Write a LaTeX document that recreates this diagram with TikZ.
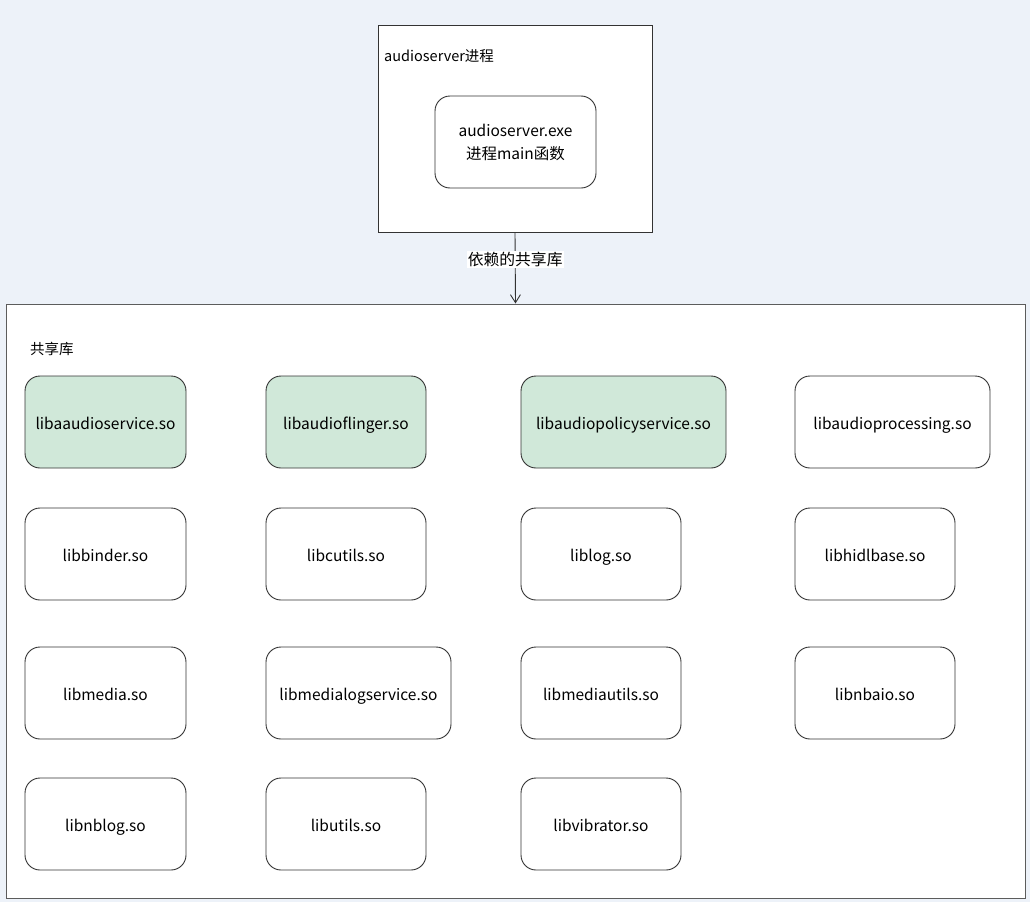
\documentclass[tikz,border=0pt]{standalone}
\usepackage{fontspec}
\setmainfont{Noto Sans CJK SC}
\usetikzlibrary{arrows.meta}
\definecolor{bgc}{HTML}{EDF2F9}
\definecolor{greenf}{HTML}{D0E8D9}
\definecolor{edgec}{HTML}{333333}
\tikzset{
  lib/.style={draw=edgec, line width=0.9pt, rounded corners=15pt, fill=white, font=\fontsize{15.5}{18}\selectfont, text=black},
  core/.style={lib, fill=greenf},
  frame/.style={draw=edgec, line width=1pt, fill=white},
  lbl/.style={font=\fontsize{14.5}{17}\selectfont, anchor=west, text=black, inner sep=0pt}
}
\newcommand{\libbox}[6]{% name, x1, y, x2, text, style
  \node[#6, minimum width={#4-#2}, minimum height=92, inner sep=0pt, text height=16pt, text depth=2pt] (#1) at ({(#2+#4)/2},{(#3)}) {#5};}
\begin{document}
\begin{tikzpicture}[x=1pt,y=-1pt]
\useasboundingbox (0,0) rectangle (1030,902);
\fill[bgc] (0,0) rectangle (1030,902);
% top process box
\node[frame, minimum width=274, minimum height=207, inner sep=0pt] (proc) at (515,128.5) {};
\node[lbl] (proclbl) at (384,56) {audioserver进程};
\node[lib, minimum width=161, minimum height=92, inner sep=0pt, align=center, font=\fontsize{15.5}{23}\selectfont] (mainfn) at (515.5,142) {audioserver.exe\\进程main函数};
% shared library frame
\node[draw=edgec!80, line width=1pt, fill=white, minimum width=1019, minimum height=594, inner sep=0pt] (shared) at (515.5,601) {};
\node[lbl] (sharedlbl) at (30,349) {共享库};
% arrow
\draw[-{Straight Barb[length=8pt,width=10pt]}, line width=0.9pt, edgec] (proc.south) -- node[pos=0.38, fill=white, inner sep=1pt, font=\fontsize{15.8}{18}\selectfont, text=black] (deplbl) {依赖的共享库} (shared.north);
% row 1
\libbox{l1}{25}{422}{186}{libaaudioservice.so}{core}
\libbox{l2}{266}{422}{426}{libaudioflinger.so}{core}
\libbox{l3}{521}{422}{726}{libaudiopolicyservice.so}{core}
\libbox{l4}{795}{422}{990}{libaudioprocessing.so}{lib}
% row 2
\libbox{l5}{25}{554}{186}{libbinder.so}{lib}
\libbox{l6}{266}{554}{426}{libcutils.so}{lib}
\libbox{l7}{521}{554}{681}{liblog.so}{lib}
\libbox{l8}{795}{554}{955}{libhidlbase.so}{lib}
% row 3
\libbox{l9}{25}{693}{186}{libmedia.so}{lib}
\libbox{l10}{266}{693}{451}{libmedialogservice.so}{lib}
\libbox{l11}{521}{693}{681}{libmediautils.so}{lib}
\libbox{l12}{795}{693}{955}{libnbaio.so}{lib}
% row 4
\libbox{l13}{25}{824}{186}{libnblog.so}{lib}
\libbox{l14}{266}{824}{426}{libutils.so}{lib}
\libbox{l15}{521}{824}{681}{libvibrator.so}{lib}
\end{tikzpicture}
\end{document}
